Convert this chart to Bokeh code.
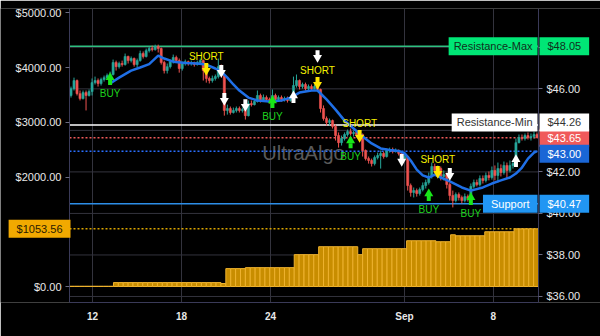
from bokeh.plotting import figure
from bokeh.models import (Range1d, LinearAxis, FixedTicker, NumeralTickFormatter,
                          Label, ColumnDataSource)
from bokeh.core.properties import value
from bokeh.embed import file_html
from bokeh.resources import INLINE

# ---------------- data ----------------
x_tick_pos = [7.65, 37.25, 66.86, 111.4, 141.0]
x_tick_labels = ["12", "18", "24", "Sep", "8"]
left_ticks = [0, 1000, 2000, 3000, 4000, 5000]
right_ticks = [36, 38, 40, 42, 44, 46, 48]

open_ = [45.68, 46.01, 46.40, 45.77, 45.53, 45.82, 45.68, 45.87, 46.30, 46.40,
         46.26, 46.45, 46.54, 46.64, 46.69, 47.27, 47.07, 47.22, 47.17, 47.56,
         47.36, 47.46, 47.17, 47.36, 47.70, 47.56, 47.84, 47.94, 47.89, 48.04,
         47.94, 47.27, 46.88, 47.07, 47.31, 47.51, 47.36, 46.98, 47.22, 47.31,
         47.22, 47.27, 47.17, 47.27, 47.36, 46.88, 46.50, 46.40, 46.50, 46.59,
         47.07, 46.64, 44.96, 45.05, 44.86, 44.96, 45.05, 44.96, 45.00, 44.71,
         45.29, 45.24, 45.39, 45.68, 45.44, 45.58, 45.49, 45.44, 45.68, 45.49,
         45.58, 45.49, 45.53, 45.44, 45.58, 46.16, 46.40, 46.11, 46.21, 46.01,
         46.11, 46.01, 46.11, 45.97, 45.05, 44.57, 44.38, 44.47, 44.19, 43.75,
         43.41, 43.61, 43.80, 43.94, 43.85, 43.90, 43.75, 43.80, 43.03, 42.64,
         42.55, 42.40, 42.69, 42.79, 42.89, 42.74, 43.03, 43.08, 42.98, 43.03,
         42.89, 42.64, 42.74, 41.34, 41.01, 41.10, 40.96, 41.15, 41.34, 41.49,
         41.78, 42.26, 42.07, 42.16, 41.78, 41.87, 41.39, 40.86, 40.62, 40.91,
         40.77, 40.62, 40.81, 40.72, 41.30, 41.49, 41.39, 41.68, 41.59, 41.83,
         41.73, 42.07, 41.83, 42.16, 41.97, 42.31, 42.07, 42.31, 42.40, 43.41,
         43.66, 43.61, 43.75, 43.66, 43.70, 43.80]
close = [46.01, 46.40, 45.77, 45.53, 45.82, 45.68, 45.87, 46.30, 46.40, 46.26,
         46.45, 46.54, 46.64, 46.69, 47.27, 47.07, 47.22, 47.17, 47.56, 47.36,
         47.46, 47.17, 47.36, 47.70, 47.56, 47.84, 47.94, 47.89, 48.04, 47.94,
         47.27, 46.88, 47.07, 47.31, 47.51, 47.36, 46.98, 47.22, 47.31, 47.22,
         47.27, 47.17, 47.27, 47.36, 46.88, 46.50, 46.40, 46.50, 46.59, 47.07,
         46.64, 44.96, 45.05, 44.86, 44.96, 45.05, 44.96, 45.00, 44.71, 45.29,
         45.24, 45.39, 45.68, 45.44, 45.58, 45.49, 45.44, 45.68, 45.49, 45.58,
         45.49, 45.53, 45.44, 45.58, 46.16, 46.40, 46.11, 46.21, 46.01, 46.11,
         46.01, 46.11, 45.97, 45.05, 44.57, 44.38, 44.47, 44.19, 43.75, 43.41,
         43.61, 43.80, 43.94, 43.85, 43.90, 43.75, 43.80, 43.03, 42.64, 42.55,
         42.40, 42.69, 42.79, 42.89, 42.74, 43.03, 43.08, 42.98, 43.03, 42.89,
         42.64, 42.74, 41.34, 41.01, 41.10, 40.96, 41.15, 41.34, 41.49, 41.78,
         42.26, 42.07, 42.16, 41.78, 41.87, 41.39, 40.86, 40.62, 40.91, 40.77,
         40.62, 40.81, 40.72, 41.30, 41.49, 41.39, 41.68, 41.59, 41.83, 41.73,
         42.07, 41.83, 42.16, 41.97, 42.31, 42.07, 42.31, 42.40, 43.41, 43.66,
         43.61, 43.75, 43.66, 43.70, 43.80, 43.65]
high = [46.11, 46.54, 46.45, 45.92, 45.92, 45.92, 45.97, 46.50, 46.59, 46.50,
        46.54, 46.64, 46.74, 46.83, 47.41, 47.36, 47.31, 47.36, 47.70, 47.60,
        47.56, 47.51, 47.46, 47.84, 47.80, 47.94, 48.04, 48.08, 48.13, 48.13,
        47.99, 47.36, 47.22, 47.41, 47.65, 47.60, 47.46, 47.31, 47.41, 47.36,
        47.36, 47.31, 47.36, 47.46, 47.41, 46.98, 46.59, 46.64, 46.69, 47.46,
        47.17, 46.74, 45.24, 45.15, 45.10, 45.15, 45.15, 45.10, 45.10, 45.44,
        45.44, 45.49, 45.92, 45.77, 45.73, 45.68, 45.58, 45.97, 45.77, 45.68,
        45.68, 45.63, 45.63, 45.68, 46.59, 46.69, 46.45, 46.30, 46.30, 46.21,
        46.21, 46.21, 46.26, 46.01, 45.20, 44.67, 44.57, 44.52, 44.28, 43.90,
        43.75, 43.90, 44.04, 44.09, 43.99, 43.94, 43.90, 43.85, 43.08, 42.74,
        42.64, 42.79, 42.93, 43.03, 42.98, 43.13, 43.17, 43.17, 43.13, 43.08,
        42.93, 42.84, 42.79, 41.44, 41.25, 41.20, 41.25, 41.49, 41.63, 41.97,
        42.45, 42.40, 42.31, 42.26, 42.07, 41.97, 41.49, 41.10, 41.01, 41.01,
        40.86, 40.96, 40.91, 41.44, 41.63, 41.63, 41.83, 41.83, 41.97, 42.02,
        42.26, 42.31, 42.45, 42.36, 42.50, 42.45, 42.55, 42.55, 43.61, 43.80,
        43.80, 43.85, 43.90, 43.85, 43.94, 43.90]
low = [45.58, 45.92, 45.68, 45.44, 45.49, 44.96, 45.63, 45.68, 46.21, 46.11,
       46.16, 46.35, 46.45, 46.54, 46.64, 46.88, 46.98, 47.07, 47.12, 47.22,
       47.27, 47.07, 47.03, 47.31, 47.46, 47.51, 47.75, 47.80, 47.84, 47.75,
       47.17, 46.74, 46.74, 46.98, 47.22, 47.27, 46.78, 46.88, 47.12, 47.12,
       47.12, 47.07, 47.12, 47.17, 46.40, 46.30, 46.26, 46.30, 46.40, 46.50,
       46.54, 44.71, 44.76, 44.76, 44.81, 44.86, 44.86, 44.86, 44.52, 44.67,
       45.15, 45.20, 45.34, 45.34, 45.39, 45.39, 45.29, 45.34, 45.39, 45.44,
       45.39, 45.39, 45.34, 45.39, 45.53, 46.06, 45.97, 46.01, 45.92, 45.92,
       45.92, 45.97, 45.87, 44.86, 44.47, 44.23, 44.23, 44.09, 43.51, 43.17,
       43.27, 43.51, 43.70, 43.75, 43.70, 43.66, 43.61, 42.74, 42.55, 42.40,
       42.26, 42.31, 42.60, 42.16, 42.64, 42.69, 42.93, 42.89, 42.93, 42.79,
       42.55, 42.55, 41.10, 40.81, 40.77, 40.81, 40.86, 41.06, 41.20, 41.39,
       41.68, 41.92, 41.83, 41.59, 41.59, 41.20, 40.62, 40.29, 40.53, 40.62,
       40.48, 40.53, 40.57, 40.62, 41.20, 41.30, 41.30, 41.44, 41.49, 41.59,
       41.63, 41.59, 41.49, 41.78, 41.87, 41.68, 41.97, 42.16, 42.31, 43.37,
       43.51, 43.51, 43.56, 43.51, 43.61, 43.62]

ma_idx = [13, 16, 20, 23, 26, 29, 31, 34, 38, 42, 45, 48, 50, 52, 54, 56, 59, 62,
          66, 70, 73, 76, 80, 82, 85, 88, 91, 94, 97, 100, 103, 106, 109, 111, 113,
          115, 117, 119, 121, 123, 126, 130, 133, 137, 140, 143, 146, 148, 150,
          152, 154, 155]
ma_val = [46.26, 46.54, 46.88, 47.03, 47.19, 47.60, 47.46, 47.31, 47.24, 47.22,
          47.17, 46.98, 46.83, 46.54, 46.21, 45.92, 45.58, 45.44, 45.39, 45.44,
          45.58, 45.82, 45.92, 45.92, 45.49, 45.00, 44.47, 44.09, 43.70, 43.37,
          43.13, 43.05, 43.01, 42.89, 42.55, 42.11, 41.83, 41.73, 41.87, 41.73,
          41.54, 41.25, 41.10, 41.25, 41.44, 41.59, 41.73, 41.92, 42.21, 42.64,
          42.93, 43.00]

equity = [5, 5, 5, 5, 5, 5, 5, 5, 5,
          72, 72, 72, 72, 72, 72, 72, 72, 72, 72, 72, 72, 72, 72, 72, 72, 72, 72,
          72, 72, 72, 72,
          55,
          327, 327, 327, 327,
          345, 345, 345, 345, 345, 345, 345, 345, 345, 345,
          582, 582, 582, 582, 582,
          727, 727, 727, 727, 727, 727, 727, 727,
          582,
          691, 691, 691, 691, 691, 691, 691, 691, 691,
          836, 836, 836, 836, 836, 836,
          818, 818, 818,
          945,
          927, 927, 927, 927, 927, 927,
          1000, 1000, 1000, 1000, 1000, 1000,
          1053.56, 1053.56, 1053.56, 1053.56, 1053.56]

buy_idx = [13, 67, 93, 119, 133]
buy_price = [46.45, 45.34, 43.41, 40.86, 40.67]
short_idx = [45, 82, 96, 122]
short_price = [46.98, 46.30, 43.75, 42.02]
exit_idx = [50, 51, 58, 74, 82, 110, 126, 148]
exit_price = [46.88, 45.53, 45.24, 45.58, 47.60, 42.60, 41.92, 42.50]
exit_dir = ["down", "down", "down", "up", "down", "down", "down", "up"]

resistance_max = 48.05
resistance_min = 44.26
support = 40.47
ma_last = ma_val[-1]
last_close = close[-1]
equity_last = equity[-1]

# ---------------- layout ----------------
W, H = 600, 336
PL, PRt, BT, BB = 69, 538, 8, 34     # price-area pixel edges
N = len(close)
NB = len(equity)
FW = PRt - PL
FH = H - BT - BB
PR0, PR1 = 35.71, 49.87
k_px = (PR1 - PR0) / FH


def px_to_idx(px):
    return (px - PL) * N / FW


def px_to_bar(px):
    return (px - PL) * NB / FW


FONT = "Liberation Sans"
UP, DOWN = "#26a69a", "#ef5350"
GRID = "#33333d"
AXIS = "#3a3a58"

p = figure(width=W, height=H, x_range=Range1d(px_to_idx(0), px_to_idx(W)),
           y_range=Range1d(-292, 5078),
           output_backend="svg", toolbar_location=None,
           min_border_left=0, min_border_right=0, min_border_top=BT,
           min_border_bottom=BB, background_fill_color="black",
           border_fill_color="black", outline_line_color=None)
p.extra_y_ranges = {"price": Range1d(PR0, PR1)}
p.extra_x_ranges = {"bars": Range1d(px_to_bar(0), px_to_bar(W))}

# axes (pinned to the edges of the price area)
la = p.yaxis[0]
la.ticker = FixedTicker(ticks=left_ticks)
la.formatter = NumeralTickFormatter(format="$0.00")
la.fixed_location = 0
ra = LinearAxis(y_range_name="price", ticker=FixedTicker(ticks=right_ticks),
                formatter=NumeralTickFormatter(format="$0.00"), fixed_location=N)
p.add_layout(ra, "right")
for ax in (la, ra):
    ax.axis_line_color = AXIS
    ax.major_tick_line_color = "#6a6a80"
    ax.major_tick_out = 4
    ax.major_tick_in = 0
    ax.minor_tick_line_color = None
    ax.major_label_text_color = "#e8e8e8"
    ax.major_label_text_font = FONT
    ax.major_label_text_font_size = "11px"
    ax.major_label_standoff = 4
xa = p.xaxis[0]
xa.ticker = FixedTicker(ticks=x_tick_pos)
xa.major_label_overrides = {t: l for t, l in zip(x_tick_pos, x_tick_labels)}
xa.bounds = (0, N)
xa.axis_line_color = AXIS
xa.major_tick_out = 0
xa.major_tick_in = 0
xa.minor_tick_line_color = None
xa.major_label_text_color = "#e8e8e8"
xa.major_label_text_font = FONT
xa.major_label_text_font_style = "bold"
xa.major_label_text_font_size = "10px"
xa.major_label_standoff = 8

p.xgrid.ticker = FixedTicker(ticks=x_tick_pos)
p.xgrid.grid_line_color = GRID
p.ygrid.visible = False
# horizontal grid of the price axis, limited to the price area
p.segment(x0=[0] * len(right_ticks), x1=[N] * len(right_ticks), y0=right_ticks,
          y1=right_ticks, line_color=GRID, line_width=1, y_range_name="price")

# watermark
p.add_layout(Label(x=px_to_idx(303), y=42.93, y_range_name="price", text="UltraAlgo",
                   text_align="center", text_baseline="middle", text_font=FONT,
                   text_font_size="20px", text_color="#5a5a5a", level="underlay"))

# level lines
for loc, col, dash, rn in [(resistance_max, "#2fbf80", "solid", "price"),
                           (resistance_min, "#ffffff", "solid", "price"),
                           (last_close, "#f05a5a", "2 2", "price"),
                           (ma_last, "#2a6fff", "2 2", "price"),
                           (support, "#2d8ee8", "solid", "price"),
                           (equity_last, "#d9a400", "2 2", "default")]:
    p.segment(x0=[0], x1=[N], y0=[loc], y1=[loc], line_color=col, line_width=1.5,
              line_dash=dash, y_range_name=rn)

# equity bars
p.vbar(x=[i + 0.5 for i in range(NB)], top=equity, bottom=0, width=1,
       x_range_name="bars", fill_color="#c88d00", line_color="#eeb22e", line_width=1)

# candles
xs = [i + 0.5 for i in range(N)]
cols = [UP if c >= o else DOWN for o, c in zip(open_, close)]
src = ColumnDataSource(dict(x=xs, h=high, l=low,
                            top=[max(o, c) for o, c in zip(open_, close)],
                            bot=[min(o, c) for o, c in zip(open_, close)], col=cols))
p.segment(x0="x", y0="h", x1="x", y1="l", line_color="col", line_width=1,
          source=src, y_range_name="price")
p.vbar(x="x", top="top", bottom="bot", width=0.7, fill_color="col", line_color="col",
       line_width=0.6, source=src, y_range_name="price")

# moving average
p.line(x=[i + 0.5 for i in ma_idx], y=ma_val, line_color="#1f6fe6", line_width=2.5,
       y_range_name="price")


def arrows(idx, price, dirs, color):
    hx, hy, hm, sx, sy = [], [], [], [], []
    for i, pr, d in zip(idx, price, dirs):
        s = 1 if d == "up" else -1
        hx.append(i + 0.5)
        hy.append(pr + s * 2.0 * k_px)
        hm.append("triangle" if d == "up" else "inverted_triangle")
        sx.append(i + 0.5)
        sy.append(pr - s * 3.0 * k_px)
    p.rect(x=sx, y=sy, width=4, height=5, width_units="screen", height_units="screen",
           fill_color=color, line_color=None, y_range_name="price")
    p.scatter(x=hx, y=hy, marker=hm, size=9, fill_color=color, line_color=None,
              y_range_name="price")


arrows(buy_idx, buy_price, ["up"] * len(buy_idx), "#19e619")
arrows(short_idx, short_price, ["down"] * len(short_idx), "#ffe600")
arrows(exit_idx, exit_price, exit_dir, "#ffffff")

p.text(x=[i + 0.5 for i in buy_idx], y=buy_price, text=["BUY"] * len(buy_idx),
       y_offset=14, text_align="center", text_baseline="middle",
       text_font=value(FONT), text_font_size="10px", text_color="#1ed21e",
       y_range_name="price")
p.text(x=[i + 0.5 for i in short_idx], y=short_price, text=["SHORT"] * len(short_idx),
       y_offset=-12, text_align="center", text_baseline="middle",
       text_font=value(FONT), text_font_size="10px", text_color="#f5f000",
       y_range_name="price")


def box(x, y, text, align, bg, fg, rn="price", pad=(8, 3)):
    # padding is (horizontal, vertical)
    p.add_layout(Label(x=x, y=y, y_range_name=rn, text=text, text_align=align,
                       text_baseline="middle", text_font=FONT, text_font_size="11px",
                       text_color=fg, background_fill_color=bg, background_fill_alpha=1,
                       padding=pad))


res_min_label_y = resistance_min + 2.5 * k_px   # box nudged up slightly, as drawn
ma_label_y = ma_last - 2.5 * k_px                 # box nudged down slightly, as drawn

box(px_to_idx(537), resistance_max, "Resistance-Max", "right", "#00e676", "#10301c", pad=(5, 3))
box(px_to_idx(539), resistance_max, "$%.2f" % resistance_max, "left", "#00e676", "#10301c")
box(px_to_idx(539), last_close, "$%.2f" % last_close, "left", "#f05a5a", "#ffffff")
box(px_to_idx(537), res_min_label_y, "Resistance-Min", "right", "#ffffff", "#333333", pad=(5, 3))
box(px_to_idx(539), res_min_label_y, "$%.2f" % resistance_min, "left", "#ffffff", "#333333")
box(px_to_idx(539), ma_label_y, "$%.2f" % ma_last, "left", "#1a66d6", "#ffffff")
box(px_to_idx(537), support, "Support", "right", "#2196f3", "#ffffff")
box(px_to_idx(539), support, "$%.2f" % support, "left", "#2196f3", "#ffffff")
box(px_to_idx(70), equity_last, "$%.2f" % equity_last, "right", "#f2a900", "#2a2000",
    rn="default")

open("out.html", "w").write(file_html(p, INLINE))
